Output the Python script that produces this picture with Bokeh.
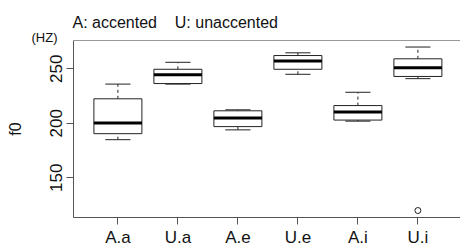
from bokeh.plotting import figure
from bokeh.models import FixedTicker, ColumnDataSource, Span, Title
from bokeh.embed import file_html
from bokeh.resources import INLINE

categories = ["A.a", "U.a", "A.e", "U.e", "A.i", "U.i"]
lower_whisker = [185, 236, 194, 245, 202, 241]
q1 = [190.5, 236.5, 197, 249.6, 203, 243]
median = [200.4, 244.5, 205, 257.3, 210.5, 251]
q3 = [222.5, 249.6, 211.5, 262.2, 216.3, 259.2]
upper_whisker = [236, 256, 212.4, 264.7, 228.5, 270]
outlier_cat = ["U.i"]
outlier_val = [120]
y_ticks = [150, 200, 250]

xs = list(range(1, len(categories) + 1))
FONT = "Liberation Sans"
BOX_W = 0.8
CAP_W = 0.42

p = figure(frame_width=387, frame_height=177, output_backend="svg", toolbar_location=None,
           x_range=(0.26, 6.71), y_range=(113.6, 276), title=None,
           min_border_left=73, min_border_top=40, min_border_bottom=0, min_border_right=0)
p.outline_line_color = None
p.grid.visible = False

src = ColumnDataSource(dict(
    x=xs, lw=lower_whisker, q1=q1, med=median, q3=q3, uw=upper_whisker,
    xl=[x - BOX_W / 2 for x in xs], xr=[x + BOX_W / 2 for x in xs],
    cl=[x - CAP_W / 2 for x in xs], cr=[x + CAP_W / 2 for x in xs],
))

# whiskers (dashed)
p.segment(x0="x", y0="q3", x1="x", y1="uw", source=src, line_color="#222", line_width=1, line_dash="3 3")
p.segment(x0="x", y0="lw", x1="x", y1="q1", source=src, line_color="#222", line_width=1, line_dash="3 3")
# caps
p.segment(x0="cl", y0="uw", x1="cr", y1="uw", source=src, line_color="#222", line_width=1)
p.segment(x0="cl", y0="lw", x1="cr", y1="lw", source=src, line_color="#222", line_width=1)
# boxes
p.quad(left="xl", right="xr", bottom="q1", top="q3", source=src, fill_color="white",
       line_color="#222", line_width=1)
# medians
p.segment(x0="xl", y0="med", x1="xr", y1="med", source=src, line_color="black", line_width=3)
# outliers
p.scatter(x=[xs[categories.index(c)] for c in outlier_cat], y=outlier_val, marker="circle",
          size=6, fill_color="white", line_color="#222", line_width=1)

# top border line
p.add_layout(Span(location=276, dimension="width", line_color="#333", line_width=1))

NB = "\u00a0"
t_hz = Title(text="(HZ)", text_font=FONT, text_font_size="13px", text_font_style="normal",
             text_color="#111", align="left", offset=-42, standoff=-9)
t_main = Title(text="A: accented" + NB * 4 + "U: unaccented", text_font=FONT, text_font_size="16px",
               text_font_style="normal", text_color="#111", align="left", offset=-1, standoff=4)
p.add_layout(t_hz, "above")
p.add_layout(t_main, "above")

xa = p.xaxis[0]
xa.ticker = FixedTicker(ticks=xs)
xa.major_label_overrides = {i: c for i, c in zip(xs, categories)}
xa.major_label_text_font = FONT
xa.major_label_text_font_size = "17px"
xa.major_label_text_color = "#111"
xa.major_tick_out = 7
xa.major_tick_in = 0
xa.minor_tick_line_color = None
xa.axis_line_color = "#555"
xa.major_tick_line_color = "#555"
xa.major_label_standoff = 3
xa.axis_label = None
xa.axis_label_standoff = 0

ya = p.yaxis[0]
ya.ticker = FixedTicker(ticks=y_ticks)
ya.major_label_orientation = "vertical"
ya.major_label_text_font = FONT
ya.major_label_text_font_size = "17px"
ya.major_label_text_color = "#111"
ya.major_tick_out = 7
ya.major_tick_in = 0
ya.minor_tick_line_color = None
ya.axis_line_color = "#555"
ya.major_tick_line_color = "#555"
ya.major_label_standoff = 4
ya.axis_label = "f0"
ya.axis_label_text_font = FONT
ya.axis_label_text_font_size = "16px"
ya.axis_label_text_font_style = "normal"
ya.axis_label_text_color = "#111"
ya.axis_label_standoff = 24

open("out.html", "w").write(file_html(p, INLINE))
